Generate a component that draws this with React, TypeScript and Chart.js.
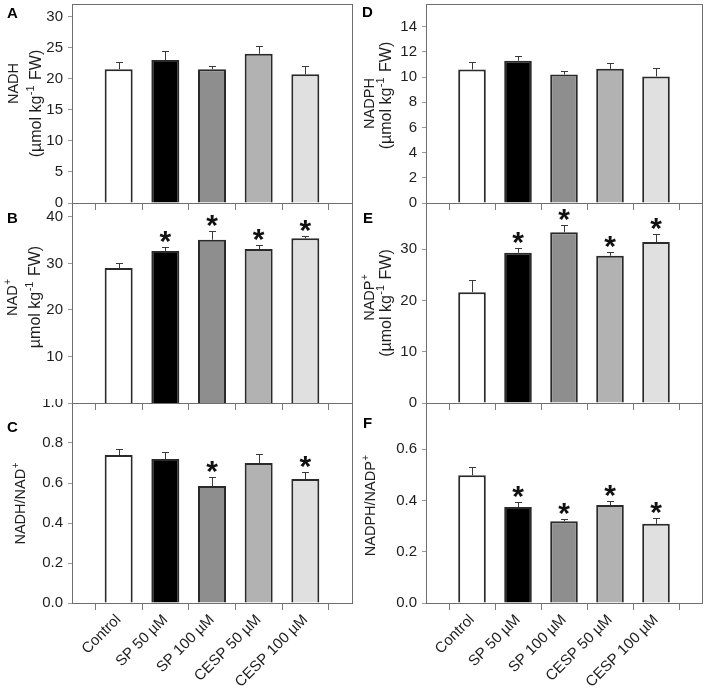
import React, { useEffect, useRef } from 'react';
import { Chart, registerables } from 'chart.js';

Chart.register(...registerables);

// ---------- data ----------
const categories = ['Control', 'SP 50 µM', 'SP 100 µM', 'CESP 50 µM', 'CESP 100 µM'];
const barColors = ['#ffffff', '#000000', '#8e8e8e', '#b2b2b2', '#e0e0e0'];

const nadhValues = [21.5, 23.0, 21.5, 24.0, 20.7];
const nadhErrors = [1.2, 1.4, 0.6, 1.2, 1.4];
const nadhStars = [false, false, false, false, false];
const nadhTicks = [0, 5, 10, 15, 20, 25, 30];

const nadValues = [29.0, 32.7, 35.1, 33.1, 35.4];
const nadErrors = [1.1, 0.8, 1.8, 0.9, 0.5];
const nadStars = [false, true, true, true, true];
const nadTicks = [10, 20, 30, 40];

const nadhRatioValues = [0.74, 0.72, 0.585, 0.70, 0.62];
const nadhRatioErrors = [0.03, 0.035, 0.045, 0.045, 0.037];
const nadhRatioStars = [false, false, true, false, true];
const nadhRatioTicks = [0, 0.2, 0.4, 0.6, 0.8, 1.0];

const nadphValues = [10.6, 11.3, 10.2, 10.65, 10.05];
const nadphErrors = [0.6, 0.37, 0.3, 0.5, 0.65];
const nadphStars = [false, false, false, false, false];
const nadphTicks = [0, 2, 4, 6, 8, 10, 12, 14];

const nadpValues = [21.6, 29.3, 33.3, 28.7, 31.4];
const nadpErrors = [2.3, 0.85, 1.5, 0.8, 1.6];
const nadpStars = [false, true, true, true, true];
const nadpTicks = [0, 10, 20, 30];

const nadphRatioValues = [0.498, 0.374, 0.319, 0.382, 0.309];
const nadphRatioErrors = [0.032, 0.021, 0.009, 0.014, 0.023];
const nadphRatioStars = [false, true, true, true, true];
const nadphRatioTicks = [0, 0.2, 0.4, 0.6];

// ---------- layout / styling ----------
const FONT = '"Liberation Sans", Arial, Helvetica, sans-serif';
const TEXT = '#1e1e1e';

type Panel = {
  letter: string;
  left: number; top: number; width: number; height: number;
  padTop: number; padRight: number; yAxisWidth: number; xAxisHeight: number;
  values: number[]; errors: number[]; stars: boolean[];
  max: number; ticks: number[]; decimals: number;
  title: string[]; titleX: number[]; titleDy: number[];
  showLabels: boolean;
  letterPos: [number, number];
};

const LEFT = { left: 0, width: 360, yAxisWidth: 72, padRight: 8 };
const RIGHT = { left: 354, width: 354, yAxisWidth: 72, padRight: 6 };
const ROW1 = { top: 0, height: 212, padTop: 4, xAxisHeight: 9 };
const ROW2 = { top: 199, height: 213, padTop: 4, xAxisHeight: 9 };
const ROW3 = { top: 399, height: 294, padTop: 4, xAxisHeight: 90 };

const panels: Panel[] = [
  { letter: 'A', ...LEFT, ...ROW1, values: nadhValues, errors: nadhErrors, stars: nadhStars, max: 32, ticks: nadhTicks, decimals: 0,
    title: ['NADH', '(µmol kg^{-1} FW)'], titleX: [12.5, 35], titleDy: [-20, 0], showLabels: false, letterPos: [7, 18] },
  { letter: 'B', ...LEFT, ...ROW2, values: nadValues, errors: nadErrors, stars: nadStars, max: 43, ticks: nadTicks, decimals: 0,
    title: ['NAD^{+}', 'µmol kg^{-1} FW)'], titleX: [12, 34], titleDy: [-6, -6], showLabels: false, letterPos: [7, 24] },
  { letter: 'C', ...LEFT, ...ROW3, values: nadhRatioValues, errors: nadhRatioErrors, stars: nadhRatioStars, max: 1.0, ticks: nadhRatioTicks, decimals: 1,
    title: ['NADH/NAD^{+}'], titleX: [20], titleDy: [0], showLabels: true, letterPos: [7, 33] },
  { letter: 'D', ...RIGHT, ...ROW1, values: nadphValues, errors: nadphErrors, stars: nadphStars, max: 15.8, ticks: nadphTicks, decimals: 0,
    title: ['NADPH', '(µmol kg^{-1} FW)'], titleX: [15, 31], titleDy: [0, -8], showLabels: false, letterPos: [8, 17] },
  { letter: 'E', ...RIGHT, ...ROW2, values: nadpValues, errors: nadpErrors, stars: nadpStars, max: 39, ticks: nadpTicks, decimals: 0,
    title: ['NADP^{+}', '(µmol kg^{-1} FW)'], titleX: [15, 31], titleDy: [-6, 0], showLabels: false, letterPos: [9, 24] },
  { letter: 'F', ...RIGHT, ...ROW3, values: nadphRatioValues, errors: nadphRatioErrors, stars: nadphRatioStars, max: 0.78, ticks: nadphRatioTicks, decimals: 1,
    title: ['NADPH/NADP^{+}'], titleX: [16], titleDy: [2], showLabels: true, letterPos: [9, 29] },
];

function parseRich(s: string) {
  const segs: { t: string; sup: boolean }[] = [];
  const re = /\^\{([^}]*)\}/g;
  let last = 0;
  let m: RegExpExecArray | null;
  while ((m = re.exec(s))) {
    if (m.index > last) segs.push({ t: s.slice(last, m.index), sup: false });
    segs.push({ t: m[1], sup: true });
    last = m.index + m[0].length;
  }
  if (last < s.length) segs.push({ t: s.slice(last), sup: false });
  return segs;
}

function drawRichRotated(ctx: CanvasRenderingContext2D, text: string, cx: number, cy: number, size: number) {
  const segs = parseRich(text);
  const supSize = Math.round(size * 0.7);
  const widths = segs.map((sg) => {
    ctx.font = `${sg.sup ? supSize : size}px ${FONT}`;
    return ctx.measureText(sg.t).width + (sg.sup ? 1.5 : 0);
  });
  const total = widths.reduce((a, b) => a + b, 0);
  ctx.save();
  ctx.translate(cx, cy);
  ctx.rotate(-Math.PI / 2);
  ctx.fillStyle = TEXT;
  ctx.textAlign = 'left';
  ctx.textBaseline = 'alphabetic';
  let x = -total / 2;
  const base = size * 0.36;
  segs.forEach((sg, i) => {
    ctx.font = `${sg.sup ? supSize : size}px ${FONT}`;
    ctx.fillText(sg.t, x + (sg.sup ? 0.5 : 0), sg.sup ? base - size * 0.42 : base);
    x += widths[i];
  });
  ctx.restore();
}

function makeOverlay(p: Panel) {
  return {
    id: 'overlay' + p.letter,
    afterDatasetsDraw(chart: any) {
      const ctx: CanvasRenderingContext2D = chart.ctx;
      const xs = chart.scales.x;
      const ys = chart.scales.y;
      ctx.save();
      // error bars
      ctx.strokeStyle = '#3a3a3a';
      ctx.lineWidth = 1;
      p.values.forEach((v, i) => {
        const x = Math.round(xs.getPixelForValue(i)) + 0.5;
        const y0 = ys.getPixelForValue(v);
        const y1 = Math.round(ys.getPixelForValue(v + p.errors[i])) + 0.5;
        ctx.beginPath();
        ctx.moveTo(x, y0);
        ctx.lineTo(x, y1);
        ctx.moveTo(x - 3.5, y1);
        ctx.lineTo(x + 3.5, y1);
        ctx.stroke();
      });
      // significance stars
      ctx.fillStyle = '#111';
      ctx.font = `bold 30px ${FONT}`;
      ctx.textAlign = 'center';
      ctx.textBaseline = 'alphabetic';
      const mt = ctx.measureText('*');
      p.values.forEach((v, i) => {
        if (!p.stars[i]) return;
        const x = xs.getPixelForValue(i);
        const yTop = ys.getPixelForValue(v + p.errors[i]);
        const baseline = yTop - 4 - mt.actualBoundingBoxDescent;
        ctx.fillText('*', x, baseline);
      });
      ctx.restore();
    },
    afterDraw(chart: any) {
      const ctx: CanvasRenderingContext2D = chart.ctx;
      const a = chart.chartArea;
      ctx.save();
      // frame
      ctx.strokeStyle = '#6e6e6e';
      ctx.lineWidth = 1;
      ctx.strokeRect(Math.round(a.left) + 0.5, Math.round(a.top) + 0.5, Math.round(a.right - a.left), Math.round(a.bottom - a.top));
      // y titles
      const cy = (a.top + a.bottom) / 2;
      p.title.forEach((t, i) => drawRichRotated(ctx, t, p.titleX[i], cy + p.titleDy[i], i === 0 ? 14.5 : 16));
      // panel letter
      ctx.fillStyle = '#000';
      ctx.font = `bold 15px ${FONT}`;
      ctx.textAlign = 'left';
      ctx.textBaseline = 'alphabetic';
      ctx.fillText(p.letter, p.letterPos[0], p.letterPos[1]);
      ctx.restore();
    },
  };
}

function makeChart(canvas: HTMLCanvasElement, p: Panel) {
  return new Chart(canvas, {
    type: 'bar',
    data: {
      datasets: [
        {
          data: categories.map((_, i) => ({ x: i, y: p.values[i] })),
          backgroundColor: barColors,
          borderColor: '#2a2a2a',
          borderWidth: 2,
          barPercentage: 0.6,
          categoryPercentage: 1,
        } as any,
      ],
    },
    options: {
      responsive: false,
      animation: false,
      devicePixelRatio: 1,
      layout: { padding: { top: p.padTop, right: p.padRight, left: 0, bottom: 0 } },
      plugins: { legend: { display: false }, tooltip: { enabled: false }, title: { display: false } },
      scales: {
        x: {
          type: 'linear',
          min: -1,
          max: 5,
          offset: false,
          afterBuildTicks: (s: any) => {
            s.ticks = categories.map((_, i) => ({ value: i }));
          },
          afterFit: (s: any) => {
            s.height = p.xAxisHeight;
            s.paddingLeft = 0;
            s.paddingRight = 0;
          },
          grid: { display: true, drawOnChartArea: false, drawTicks: true, tickLength: 7, color: '#7a7a7a', lineWidth: 1 },
          border: { display: false },
          ticks: {
            display: p.showLabels,
            autoSkip: false,
            maxRotation: 45,
            minRotation: 45,
            padding: 1,
            color: TEXT,
            font: { family: FONT, size: 15 },
            callback: (v: any) => categories[Number(v)] ?? '',
          },
        },
        y: {
          min: 0,
          max: p.max,
          afterBuildTicks: (s: any) => {
            s.ticks = p.ticks.map((v) => ({ value: v }));
          },
          afterFit: (s: any) => {
            s.width = p.yAxisWidth;
            s.paddingTop = 0;
            s.paddingBottom = 0;
          },
          grid: { display: true, drawOnChartArea: false, drawTicks: true, tickLength: 4, color: '#9a9a9a' },
          border: { display: false },
          ticks: {
            padding: 5,
            color: TEXT,
            font: { family: FONT, size: 15 },
            callback: (v: any) => Number(v).toFixed(p.decimals),
          },
        },
      },
    } as any,
    plugins: [makeOverlay(p)],
  });
}

export default function App() {
  const refs = useRef<(HTMLCanvasElement | null)[]>([]);

  useEffect(() => {
    const charts = panels.map((p, i) => makeChart(refs.current[i] as HTMLCanvasElement, p));
    return () => charts.forEach((c) => c.destroy());
  }, []);

  return (
    <div style={{ position: 'absolute', left: 0, top: 0, width: 708, height: 693, background: '#fff', overflow: 'hidden' }}>
      {panels.map((p, i) => (
        <canvas
          key={p.letter}
          ref={(el) => { refs.current[i] = el; }}
          width={p.width}
          height={p.height}
          style={{ position: 'absolute', left: p.left, top: p.top, width: p.width, height: p.height }}
        />
      ))}
    </div>
  );
}
